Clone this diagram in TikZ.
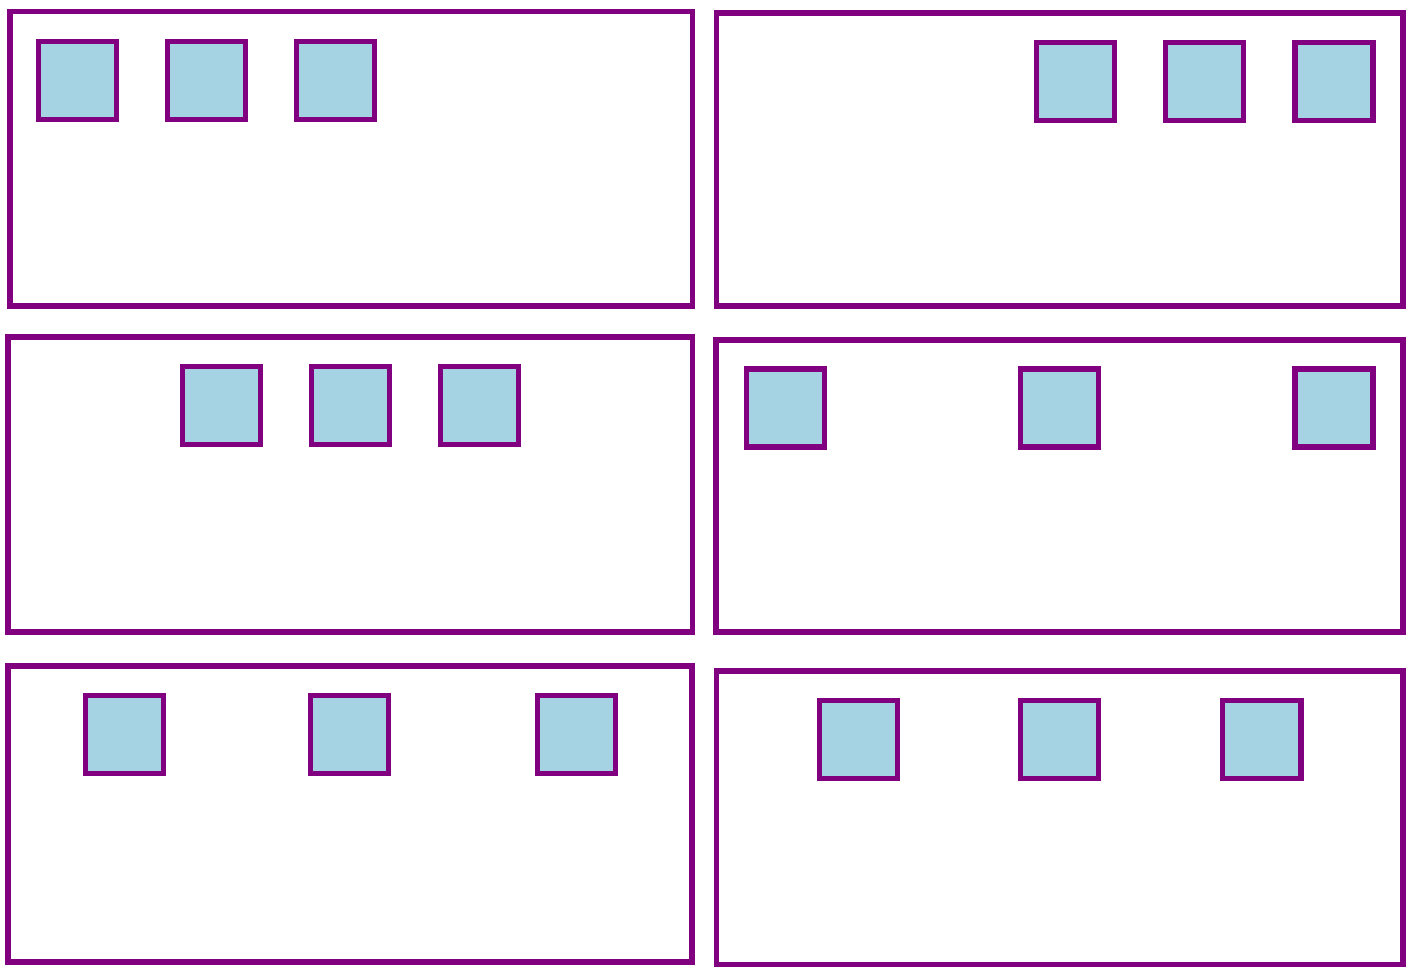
\documentclass[tikz,border=0pt]{standalone}
\definecolor{boxline}{HTML}{800080}
\definecolor{itemfill}{HTML}{A6D3E3}
\tikzset{
  panel/.style={draw=boxline,line width=3.4pt},
  item/.style={draw=boxline,fill=itemfill,line width=3.4pt}
}
\newcommand{\itembox}[2]{\draw[item] (#1-39,#2-39) rectangle (#1+39,#2+39);}
\begin{document}
\begin{tikzpicture}[x=0.02cm,y=-0.02cm]
				\useasboundingbox (0,0) rectangle (1417,977);
				% left column
				\draw[panel] (10,11.5) rectangle (692.5,306);
				\foreach \cx in {77.5,206.5,335.5} {\itembox{\cx}{80.5}}
				\draw[panel] (8,337) rectangle (692.5,632);
				\foreach \cx in {221.5,350.5,479.5} {\itembox{\cx}{405.5}}
				\draw[panel] (8,666) rectangle (692,962);
				\foreach \cx in {124.5,349.5,576.5} {\itembox{\cx}{734.5}}
				% right column
				\draw[panel] (716.5,13) rectangle (1402.5,306);
				\foreach \cx in {1075.5,1204.5,1333.5} {\itembox{\cx}{81.5}}
				\draw[panel] (716,340) rectangle (1402.5,632);
				\foreach \cx in {785.5,1059.5,1333.5} {\itembox{\cx}{408}}
				\draw[panel] (716.5,671) rectangle (1402.5,964.5);
				\foreach \cx in {858.5,1059.5,1261.5} {\itembox{\cx}{739.5}}
			\end{tikzpicture}
\end{document}
